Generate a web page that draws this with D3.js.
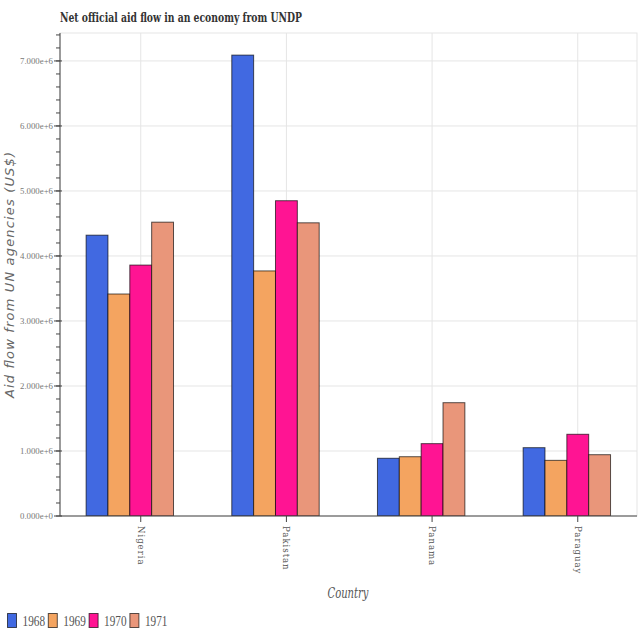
<!DOCTYPE html>
<html><head><meta charset="utf-8">
<script src="https://cdn.jsdelivr.net/npm/d3@7"></script>
<style>body{margin:0;background:#fff}svg{display:block}</style>
</head><body>
<script>
const countries = ["Nigeria", "Pakistan", "Panama", "Paraguay"];
const years = ["1968", "1969", "1970", "1971"];
const v1968 = [4320000, 7090000, 888000, 1051000];
const v1969 = [3415000, 3770000, 912000, 856000];
const v1970 = [3860000, 4850000, 1113000, 1257000];
const v1971 = [4520000, 4510000, 1743000, 943000];
const yTicks = [0, 1e6, 2e6, 3e6, 4e6, 5e6, 6e6, 7e6];
const colors = ["#4169e1", "#f4a460", "#ff1493", "#e9967a"];
const offsets = [-0.3, -0.15, 0, 0.15];
const series = [v1968, v1969, v1970, v1971];

const W = 640, H = 640;
const L = 60, R = 637, T = 33, B = 516;
const svg = d3.select("body").append("svg").attr("width", W).attr("height", H);

const y = d3.scaleLinear().domain([0, 7.43e6]).range([B, T]);
const x = d3.scaleBand().domain(countries).range([67.9, 650.6]).padding(0);
const bw = x.bandwidth();
const cx = c => x(c) + bw / 2;

svg.append("rect").attr("x", L).attr("y", T).attr("width", R - L).attr("height", B - T)
  .attr("fill", "none").attr("stroke", "#e5e5e5");

svg.append("g").selectAll("line").data(yTicks.slice(1)).join("line")
  .attr("x1", L).attr("x2", R).attr("y1", d => y(d)).attr("y2", d => y(d))
  .attr("stroke", "#e5e5e5");
svg.append("g").selectAll("line").data(countries).join("line")
  .attr("x1", d => cx(d)).attr("x2", d => cx(d)).attr("y1", T).attr("y2", B)
  .attr("stroke", "#e5e5e5");

svg.append("clipPath").attr("id", "clip").append("rect")
  .attr("x", L).attr("y", T).attr("width", R - L).attr("height", B - T);
const bars = svg.append("g").attr("clip-path", "url(#clip)");
series.forEach((vals, i) => {
  bars.append("g").selectAll("rect").data(countries).join("rect")
    .attr("x", (c) => cx(c) + (offsets[i] - 0.075) * bw)
    .attr("width", 0.15 * bw)
    .attr("y", (c, j) => y(vals[j]))
    .attr("height", (c, j) => B - y(vals[j]))
    .attr("fill", colors[i])
    .attr("stroke", "#000").attr("stroke-opacity", 0.65).attr("stroke-width", 1);
});

const ya = svg.append("g").attr("transform", `translate(${L},0)`);
ya.append("line").attr("x1", 0).attr("x2", 0).attr("y1", T).attr("y2", B).attr("stroke", "#444");
const minor = d3.range(0, 7.43e6, 2e5);
ya.selectAll("line.mn").data(minor).join("line").attr("class", "mn")
  .attr("x1", -4).attr("x2", 0).attr("y1", d => y(d)).attr("y2", d => y(d)).attr("stroke", "#444");
ya.selectAll("line.mj").data(yTicks).join("line").attr("class", "mj")
  .attr("x1", -6).attr("x2", 2).attr("y1", d => y(d)).attr("y2", d => y(d)).attr("stroke", "#444");
const fmt = d3.format(".3e");
ya.selectAll("text").data(yTicks).join("text")
  .attr("x", -7).attr("y", d => y(d)).attr("dy", "0.35em")
  .attr("text-anchor", "end").attr("font-family", "Liberation Serif")
  .attr("font-size", 9).attr("fill", "#777")
  .attr("textLength", 33).attr("lengthAdjust", "spacingAndGlyphs").text(d => fmt(d));

const xa = svg.append("g").attr("transform", `translate(0,${B})`);
xa.append("line").attr("x1", L).attr("x2", R).attr("y1", 0).attr("y2", 0).attr("stroke", "#444");
xa.selectAll("line.t").data(countries).join("line").attr("class", "t")
  .attr("x1", d => cx(d)).attr("x2", d => cx(d)).attr("y1", 0).attr("y2", 6).attr("stroke", "#444");
xa.selectAll("text").data(countries).join("text")
  .attr("transform", d => `translate(${cx(d)},10) rotate(90)`)
  .attr("dy", "0.35em").attr("text-anchor", "start")
  .attr("font-family", "DejaVu Serif").attr("font-size", 8.5).attr("letter-spacing", 1)
  .attr("fill", "#555").text(d => d);

svg.append("text").attr("x", L).attr("y", 22)
  .attr("font-family", "DejaVu Serif").attr("font-weight", "bold")
  .attr("font-size", 12).attr("fill", "#333")
  .attr("textLength", 242).attr("lengthAdjust", "spacingAndGlyphs")
  .text("Net official aid flow in an economy from UNDP");
svg.append("text").attr("x", 348).attr("y", 598).attr("text-anchor", "middle")
  .attr("font-family", "DejaVu Serif").attr("font-style", "italic")
  .attr("font-size", 15).attr("fill", "#555")
  .attr("textLength", 41).attr("lengthAdjust", "spacingAndGlyphs").text("Country");
svg.append("text").attr("transform", `translate(14,275) rotate(-90)`)
  .attr("text-anchor", "middle").attr("font-family", "DejaVu Sans").attr("font-style", "italic")
  .attr("font-size", 13).attr("fill", "#666")
  .attr("textLength", 246).attr("lengthAdjust", "spacing")
  .text("Aid flow from UN agencies (US$)");

const lg = svg.append("g").attr("transform", "translate(7,613)");
years.forEach((yr, i) => {
  const g = lg.append("g").attr("transform", `translate(${i * 40.8},0)`);
  g.append("rect").attr("x", 0.5).attr("y", 0.5).attr("width", 9).attr("height", 14)
    .attr("fill", colors[i]).attr("stroke", "#000").attr("stroke-opacity", 0.65);
  g.append("text").attr("x", 15.5).attr("y", 13)
    .attr("font-family", "Liberation Serif").attr("font-size", 15)
    .attr("fill", "#555").attr("textLength", 22.5).attr("lengthAdjust", "spacingAndGlyphs")
    .text(yr);
});
</script>
</body></html>
